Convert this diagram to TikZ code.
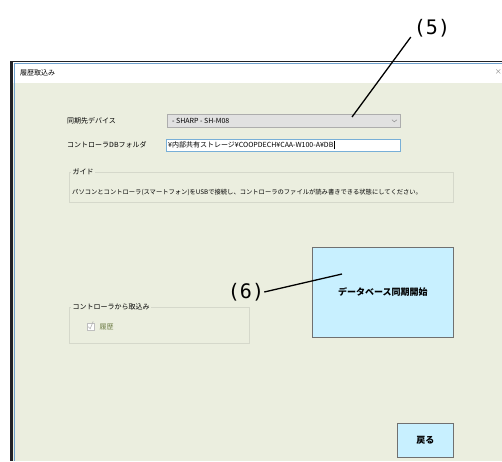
\documentclass[tikz,border=0pt]{standalone}
\usepackage{fontspec}
\setmainfont{Noto Sans CJK JP}
\newfontfamily\callfamily{DejaVu Sans Mono}
\usetikzlibrary{positioning}
\definecolor{formbg}{RGB}{235,238,223}
\definecolor{frame}{RGB}{34,34,38}
\definecolor{frameblue}{RGB}{110,160,205}
\definecolor{combofill}{RGB}{225,225,225}
\definecolor{comboline}{RGB}{173,173,173}
\definecolor{boxblue}{RGB}{120,175,215}
\definecolor{grpline}{RGB}{213,216,203}
\definecolor{btnfill}{RGB}{200,240,255}
\definecolor{btnline}{RGB}{112,112,112}
\definecolor{disabled}{RGB}{110,125,70}
\newcommand{\uifont}{\fontsize{7}{8}\selectfont}
\newcommand{\guidefont}{\fontsize{6.3}{7}\selectfont}
\newcommand{\btnfont}{\fontsize{9}{10}\selectfont\bfseries}
\newcommand{\callfont}{\callfamily\fontsize{20}{22}\selectfont}
\tikzset{combo/.style={draw=comboline, fill=combofill}}
\tikzset{textbox/.style={draw=boxblue, fill=white}}
\tikzset{grpbox/.style={draw=grpline, line width=0.8pt}}
\tikzset{grptitle/.style={fill=formbg, inner xsep=1.5pt}}
\tikzset{btn/.style={draw=btnline, fill=btnfill, line width=0.8pt}}
\tikzset{callout/.style={font=\callfont}}
\tikzset{callline/.style={draw=black, line width=1.3pt}}

\begin{document}
\begin{tikzpicture}[x=1pt, y=-1pt]
  \tikzstyle{every node}=[font=\uifont, inner sep=0pt]
    \useasboundingbox (0,0) rectangle (502,461);

    % window
    \fill[white] (0,0) rectangle (502,461);
    \fill[formbg] (12,83) rectangle (502,461);
    \draw[frameblue, line width=0.8pt] (14,63) -- (502,63);
    \draw[frameblue, line width=0.8pt] (14,63) -- (14,461);
    \draw[frame, line width=1.6pt] (10,61.6) -- (502,61.6);
    \draw[frame, line width=3pt] (11.5,61) -- (11.5,461);
    \node(title)[anchor=west] at (20,73) {履歴取込み};
    \node(close)[text=gray, anchor=east] at (502,72) {×};

    % device
    \node(l1)[anchor=west] at (67,120.5) {同期先デバイス};
    \node(cb)[combo, anchor=north west, minimum width=233pt, minimum height=13pt] at (167,114) {};
    \node(cbt)[right=5pt of cb.west] {- SHARP - SH-M08};
    \draw[gray] ([xshift=-8.5pt,yshift=1pt]cb.east) -- ([xshift=-6pt,yshift=-1.2pt]cb.east) -- ([xshift=-3.5pt,yshift=1pt]cb.east);

    % folder
    \node(l2)[anchor=west] at (67,145) {コントローラDBフォルダ};
    \node(tb)[textbox, anchor=north west, minimum width=234pt, minimum height=12pt] at (166,139) {};
    \node(tbt)[right=2pt of tb.west] {¥内部共有ストレージ¥COOPDECH¥CAA-W100-A¥DB};
    \draw[black, line width=0.5pt] ([xshift=0.8pt,yshift=-4pt]tbt.east) -- ([xshift=0.8pt,yshift=4pt]tbt.east);

    % guide
    \node(guide)[grpbox, anchor=north west, minimum width=384pt, minimum height=30pt] at (69,172) {};
    \node(gt)[grptitle, anchor=west] at (71,172) {ガイド};
    \node(gtext)[anchor=west, font=\guidefont] at (72,192) {パソコンとコントローラ(スマートフォン)をUSBで接続し、コントローラのファイルが読み書きできる状態にしてください。};

    % controller
    \node(ctl)[grpbox, anchor=north west, minimum width=180pt, minimum height=36pt] at (69,307) {};
    \node(ctlt)[grptitle, anchor=west] at (71,307) {コントローラから取込み};
    \node(chk)[draw=gray!50, fill=white, anchor=north west, minimum size=7pt] at (87,323) {};
    \draw[gray!60, line width=0.6pt] ([xshift=1.3pt]chk.west) -- ([xshift=-0.5pt,yshift=-2pt]chk.center) -- ([xshift=-1.2pt,yshift=1.6pt]chk.north east);
    \node(hist)[right=5pt of chk, text=disabled] {履歴};

    % buttons
    \node(sync)[btn, anchor=north west, minimum width=141pt, minimum height=90pt, font=\btnfont] at (312,247) {データベース同期開始};
    \node(back)[btn, anchor=north west, minimum width=56pt, minimum height=34pt, font=\btnfont] at (397,423) {戻る};

    % callouts
    \node(n5)[callout] at (432,28) {(5)};
    \coordinate(p5) at (352,117);
    \draw[callline] ([xshift=-3pt]n5.south west) -- (p5);
    \node(n6)[callout] at (246,292) {(6)};
    \coordinate(p6) at (342,274);
    \draw[callline] (n6.east) -- (p6);

  \end{tikzpicture}
\end{document}
